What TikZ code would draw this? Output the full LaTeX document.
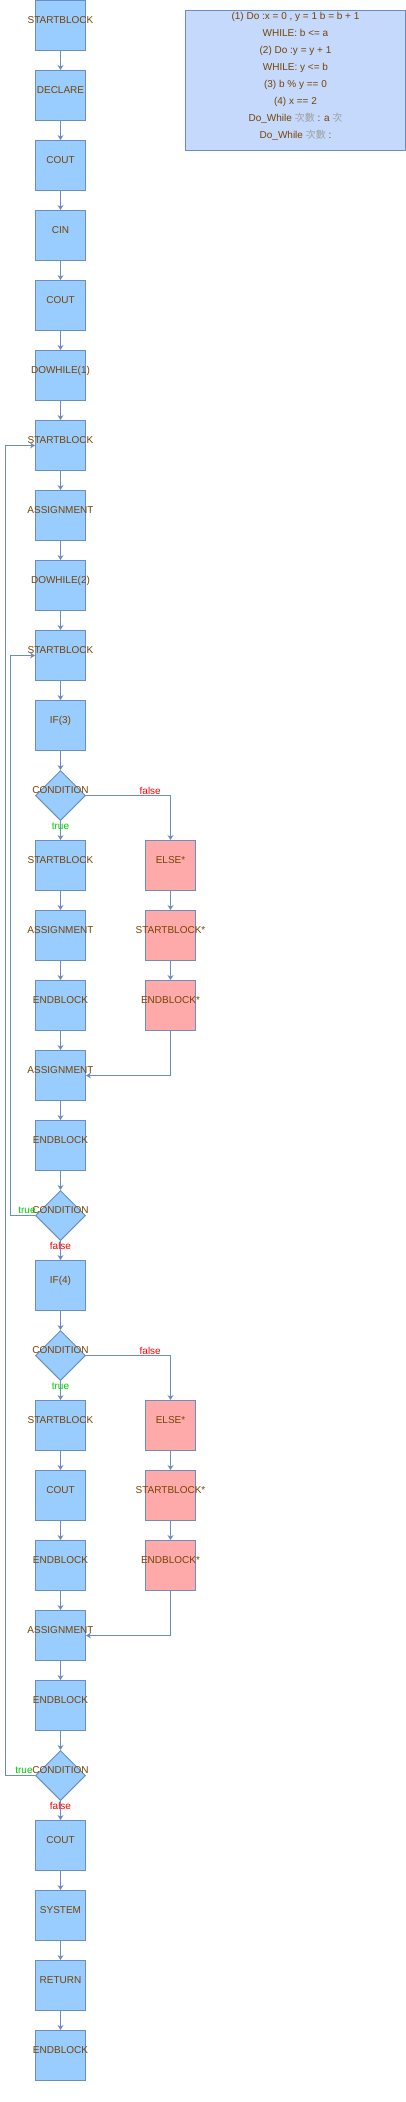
\documentclass[tikz,border=0pt]{standalone}
\usepackage{fontspec}
\setmainfont{Liberation Sans}
\newfontfamily\cjk{Noto Sans CJK TC}
\usetikzlibrary{shapes.geometric,arrows.meta}
\definecolor{lineC}{HTML}{6C8EBF}
\definecolor{blueF}{HTML}{99CCFF}
\definecolor{redF}{HTML}{FFAAAA}
\definecolor{infoF}{HTML}{C4D9FC}
\definecolor{txtC}{HTML}{774400}
\definecolor{greyC}{HTML}{A0A0A0}
\definecolor{trueC}{HTML}{00CC00}
\definecolor{falseC}{HTML}{FF0000}
\begin{document}
\begin{tikzpicture}[x=1pt,y=-1pt,
  txt/.style={text=txtC, font=\fontsize{10}{12}\selectfont, inner sep=0pt},
  blk/.style={draw=lineC, line width=1pt, fill=blueF, minimum width=50pt, minimum height=50pt, inner sep=0pt, label={[txt,yshift=5pt]center:#1}},
  redblk/.style={blk=#1, fill=redF},
  cond/.style={diamond, draw=lineC, line width=1pt, fill=blueF, minimum width=50pt, minimum height=50pt, inner sep=0pt, label={[txt,yshift=5pt]center:CONDITION}},
  arr/.style={draw=lineC, line width=1pt, -{Stealth[length=5pt,width=6pt]}},
  tl/.style={text=trueC, font=\fontsize{10}{12}\selectfont, inner sep=0pt},
  fl/.style={text=falseC, font=\fontsize{10}{12}\selectfont, inner sep=0pt}]
\useasboundingbox (0,0) rectangle (406,2102);
\fill[white] (0,0) rectangle (406,2102);

% info box
\node[draw=lineC, fill=infoF, line width=1pt, minimum width=220pt, minimum height=140pt, inner sep=0pt] (info) at (295.5,80.5) {};
\node[txt, anchor=base] (i1) at (295.5,19.6) {(1) Do :x = 0 , y = 1 b = b + 1};
\node[txt, anchor=base] (i2) at (295.5,36.6) {WHILE: b <= a};
\node[txt, anchor=base] (i3) at (295.5,53.6) {(2) Do :y = y + 1};
\node[txt, anchor=base] (i4) at (295.5,70.6) {WHILE: y <= b};
\node[txt, anchor=base] (i5) at (295.5,87.6) {(3) b \% y == 0};
\node[txt, anchor=base] (i6) at (295.5,104.6) {(4) x == 2};
\node[txt, anchor=base] (i7) at (295.5,121.6) {Do\_While {\cjk\color{greyC}次數} : a {\cjk\color{greyC}次}};
\node[txt, anchor=base] (i8) at (295.5,138.6) {Do\_While {\cjk\color{greyC}次數} :};

% main column
\node[blk=STARTBLOCK] (n0) at (60.5,25.5) {};
\node[blk=DECLARE] (n1) at (60.5,95.5) {};
\node[blk=COUT] (n2) at (60.5,165.5) {};
\node[blk=CIN] (n3) at (60.5,235.5) {};
\node[blk=COUT] (n4) at (60.5,305.5) {};
\node[blk=DOWHILE(1)] (n5) at (60.5,375.5) {};
\node[blk=STARTBLOCK] (n6) at (60.5,445.5) {};
\node[blk=ASSIGNMENT] (n7) at (60.5,515.5) {};
\node[blk=DOWHILE(2)] (n8) at (60.5,585.5) {};
\node[blk=STARTBLOCK] (n9) at (60.5,655.5) {};
\node[blk=IF(3)] (n10) at (60.5,725.5) {};
\node[cond] (n11) at (60.5,795.5) {};
\node[blk=STARTBLOCK] (n12) at (60.5,865.5) {};
\node[blk=ASSIGNMENT] (n13) at (60.5,935.5) {};
\node[blk=ENDBLOCK] (n14) at (60.5,1005.5) {};
\node[blk=ASSIGNMENT] (n15) at (60.5,1075.5) {};
\node[blk=ENDBLOCK] (n16) at (60.5,1145.5) {};
\node[cond] (n17) at (60.5,1215.5) {};
\node[blk=IF(4)] (n18) at (60.5,1285.5) {};
\node[cond] (n19) at (60.5,1355.5) {};
\node[blk=STARTBLOCK] (n20) at (60.5,1425.5) {};
\node[blk=COUT] (n21) at (60.5,1495.5) {};
\node[blk=ENDBLOCK] (n22) at (60.5,1565.5) {};
\node[blk=ASSIGNMENT] (n23) at (60.5,1635.5) {};
\node[blk=ENDBLOCK] (n24) at (60.5,1705.5) {};
\node[cond] (n25) at (60.5,1775.5) {};
\node[blk=COUT] (n26) at (60.5,1845.5) {};
\node[blk=SYSTEM] (n27) at (60.5,1915.5) {};
\node[blk=RETURN] (n28) at (60.5,1985.5) {};
\node[blk=ENDBLOCK] (n29) at (60.5,2055.5) {};

% else branches
\node[redblk=ELSE*] (e1) at (170.5,865.5) {};
\node[redblk=STARTBLOCK*] (s1) at (170.5,935.5) {};
\node[redblk=ENDBLOCK*] (b1) at (170.5,1005.5) {};
\node[redblk=ELSE*] (e2) at (170.5,1425.5) {};
\node[redblk=STARTBLOCK*] (s2) at (170.5,1495.5) {};
\node[redblk=ENDBLOCK*] (b2) at (170.5,1565.5) {};

% straight connectors
\foreach \a/\b in {0/1,1/2,2/3,3/4,4/5,5/6,6/7,7/8,8/9,9/10,10/11,12/13,13/14,14/15,15/16,16/17,18/19,20/21,21/22,22/23,23/24,24/25,26/27,27/28,28/29}
  \draw[arr] (n\a) -- (n\b);

\draw[arr] (n11) -- node[tl, at start, yshift=-5pt] {true} (n12);
\draw[arr] (n17) -- node[fl, at start, yshift=-5pt] {false} (n18);
\draw[arr] (n19) -- node[tl, at start, yshift=-5pt] {true} (n20);
\draw[arr] (n25) -- node[fl, at start, yshift=-5pt] {false} (n26);

\draw[arr] (n11.east) -| node[fl, pos=0.38, yshift=5pt] {false} (e1);
\draw[arr] (e1) -- (s1);
\draw[arr] (s1) -- (b1);
\draw[arr] (b1) |- (n15.east);
\draw[arr] (n19.east) -| node[fl, pos=0.38, yshift=5pt] {false} (e2);
\draw[arr] (e2) -- (s2);
\draw[arr] (s2) -- (b2);
\draw[arr] (b2) |- (n23.east);

% loop backs
\draw[arr] (n17.west) -- node[tl, at start, xshift=-8pt, yshift=5pt] {true} ++(-25,0) |- (n9.west);
\draw[arr] (n25.west) -- node[tl, at start, xshift=-11pt, yshift=5pt] {true} ++(-30,0) |- (n6.west);
\end{tikzpicture}
\end{document}
